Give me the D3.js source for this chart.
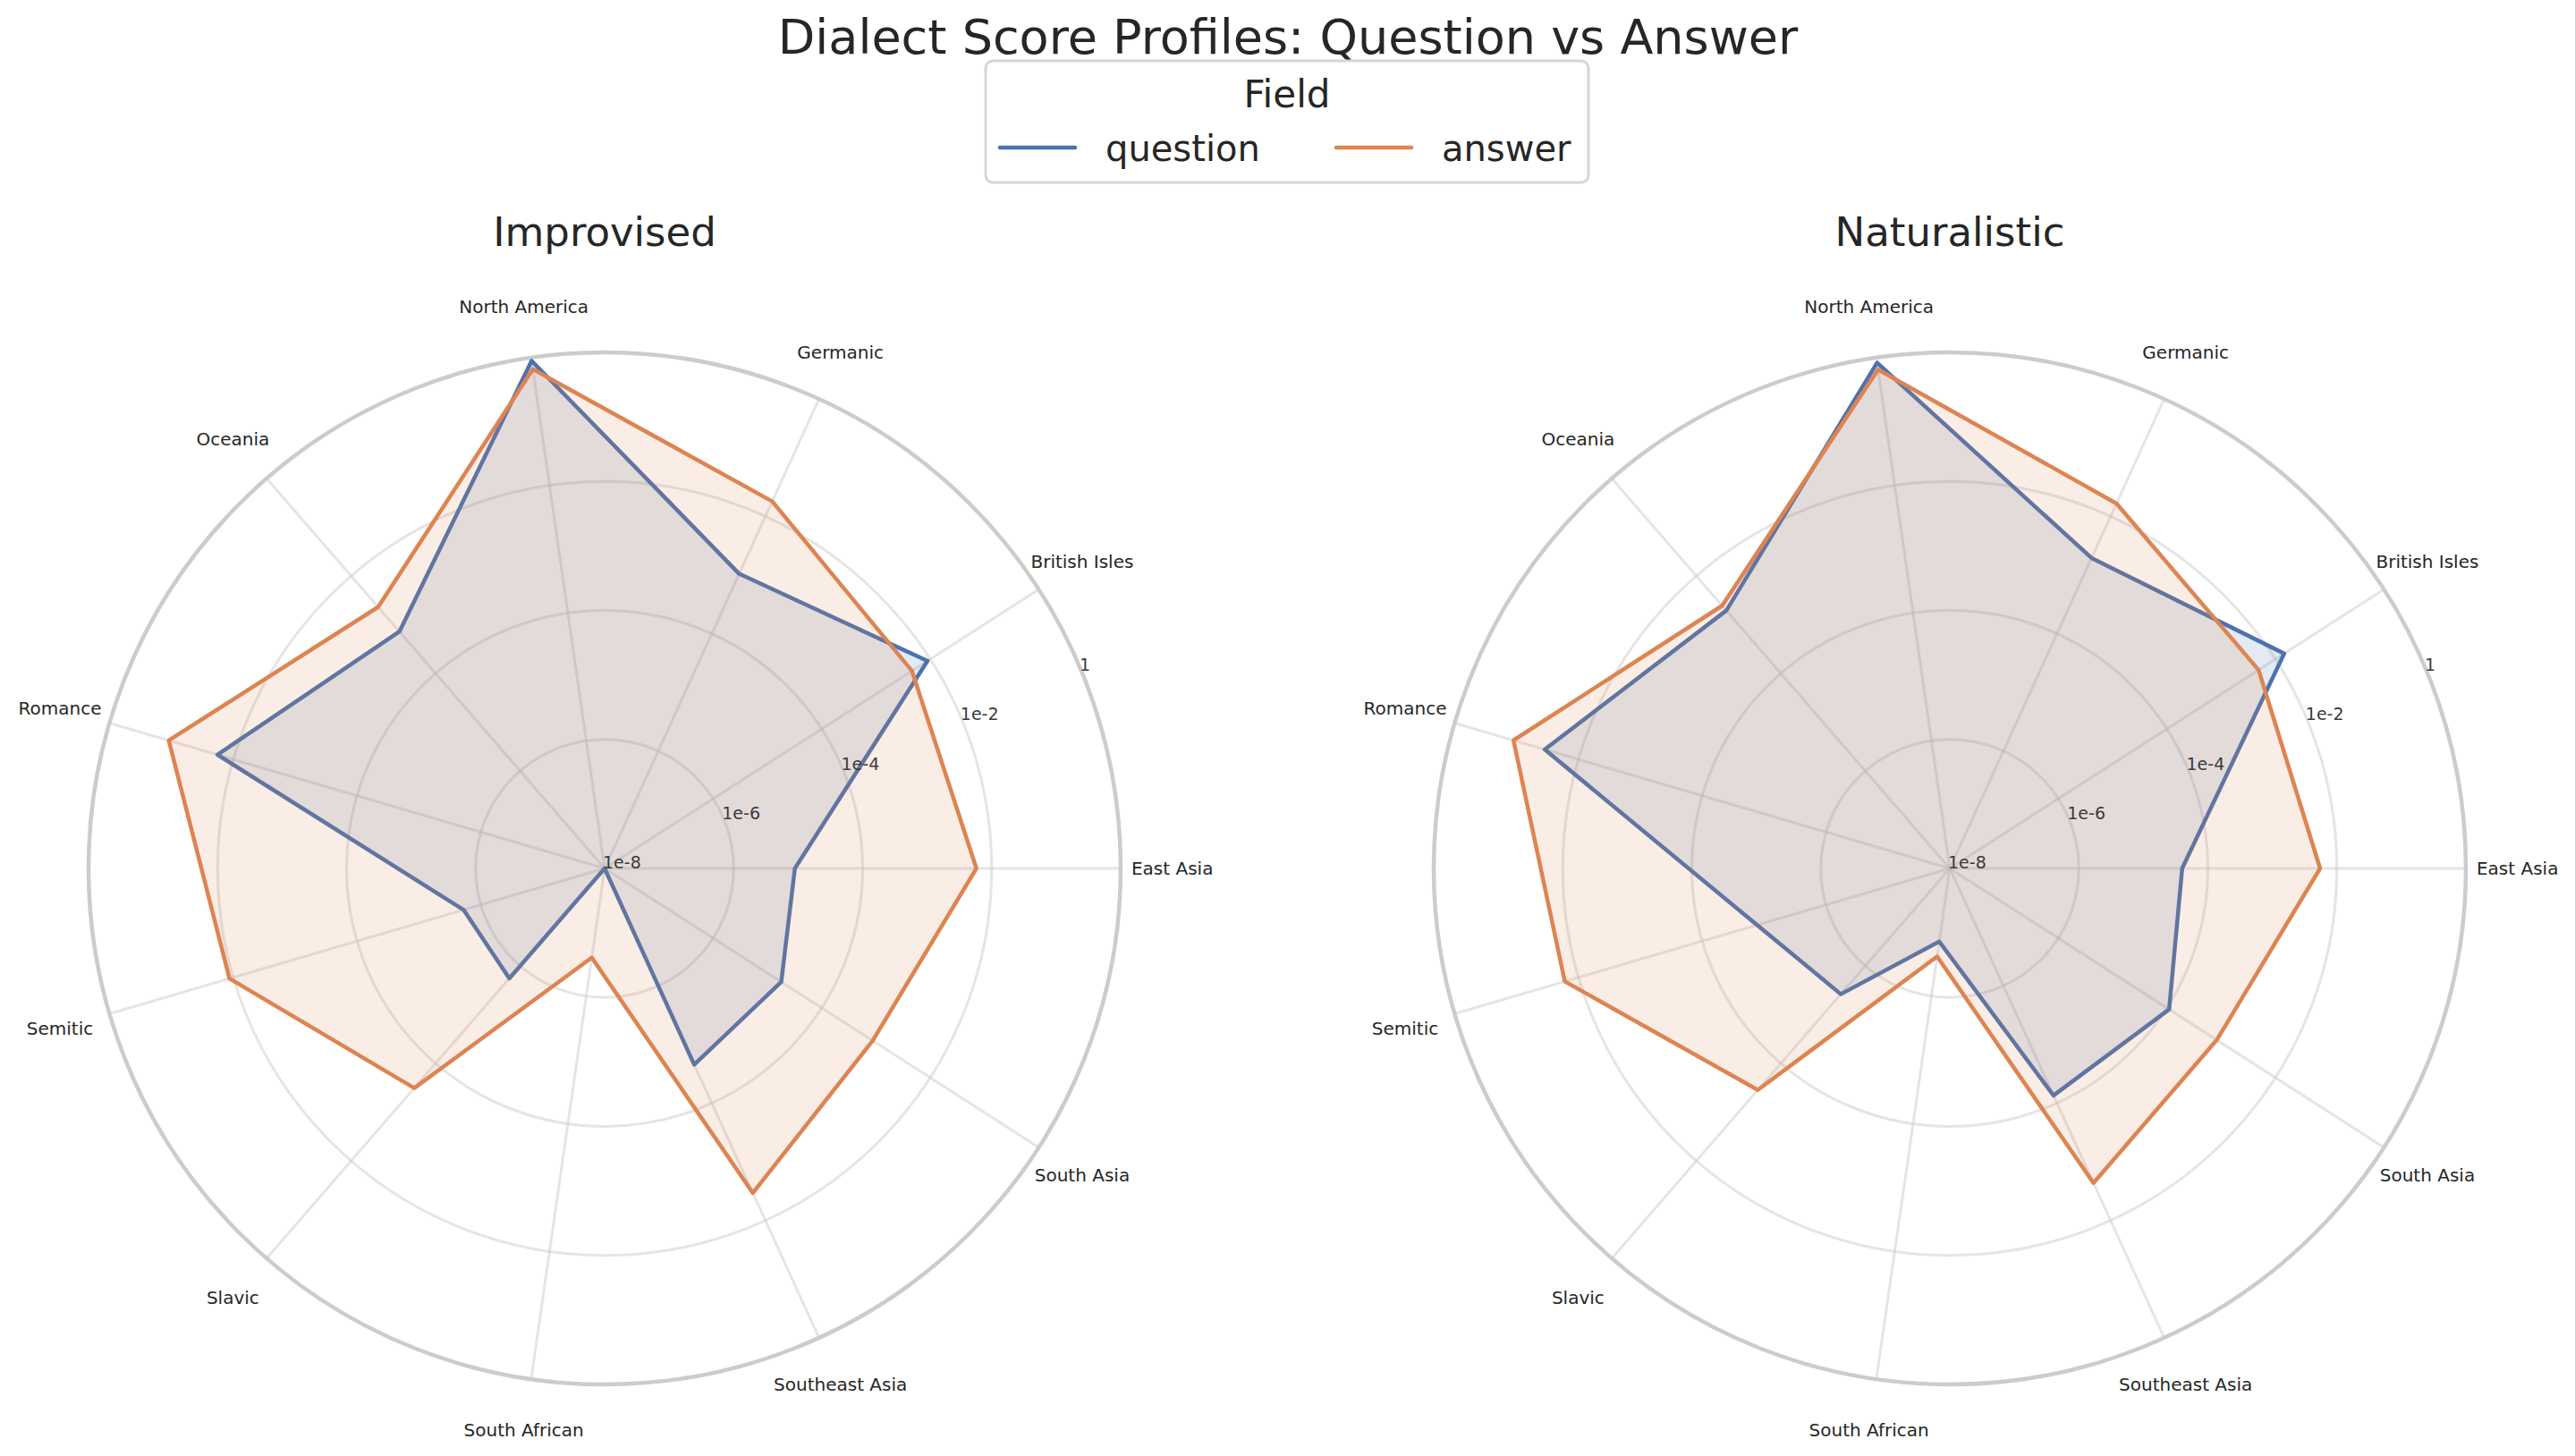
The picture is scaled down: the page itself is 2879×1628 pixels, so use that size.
<!DOCTYPE html>
<html>
<head>
<meta charset="utf-8">
<script src="https://cdn.jsdelivr.net/npm/d3@7"></script>
<style>
  body { margin: 0; background: #fff; }
  text { font-family: "DejaVu Sans", sans-serif; fill: #262626; }
</style>
</head>
<body>
<svg id="chart" width="2879" height="1628"></svg>
<script>
// categories, counter-clockwise from 3 o'clock
const categories = ['East Asia', 'British Isles', 'Germanic', 'North America', 'Oceania', 'Romance',
  'Semitic', 'Slavic', 'South African', 'Southeast Asia', 'South Asia'];

const fields = ['question', 'answer'];
const panels = ['Improvised', 'Naturalistic'];

// scores (log radial axis)
const improvisedQuestion = [8.9e-6, 8.9e-3, 1.05e-3, 0.89, 7.2e-4, 0.018, 1.9e-6, 1.8e-6, 1e-8, 2.2e-5, 1.8e-5];
const improvisedAnswer = [5.8e-3, 4.6e-3, 0.018, 0.66, 2.3e-3, 0.11, 0.0115, 3.2e-4, 2.5e-7, 3.4e-3, 8.7e-4];
const naturalisticQuestion = [4.0e-5, 0.0145, 1.95e-3, 0.83, 1.95e-3, 0.035, 1.3e-5, 3.8e-6, 1.4e-7, 7.4e-5, 1.1e-4];
const naturalisticAnswer = [5.5e-3, 4.9e-3, 0.0166, 0.65, 2.45e-3, 0.112, 0.0166, 3.5e-4, 2.4e-7, 2.3e-3, 8.3e-4];

const tickValues = [1e-8, 1e-6, 1e-4, 1e-2, 1];
const tickLabels = ['1e-8', '1e-6', '1e-4', '1e-2', '1'];

const colors = { question: '#4c72b0', answer: '#dd8452' };
const R = 577;

const svg = d3.select('#chart');
svg.append('rect').attr('width', 2879).attr('height', 1628).attr('fill', '#fff');

const r = d3.scaleLog().domain([1e-8, 1]).range([0, R]).clamp(true);
const angle = d3.scaleLinear().domain([0, categories.length]).range([0, 2 * Math.PI]);

svg.append('text')
  .attr('x', 1440).attr('y', 60)
  .attr('text-anchor', 'middle')
  .style('font-size', '54px')
  .text('Dialect Score Profiles: Question vs Answer');

function drawRadar(cx, title, series) {
  const g = svg.append('g').attr('transform', `translate(${cx}, 971)`);

  svg.append('text')
    .attr('x', cx).attr('y', 275)
    .attr('text-anchor', 'middle')
    .style('font-size', '45px')
    .text(title);

  // rings
  g.selectAll('.ring')
    .data(tickValues.slice(1, -1))
    .enter()
    .append('circle')
    .attr('r', d => r(d))
    .attr('fill', 'none')
    .attr('stroke', '#cccccc')
    .attr('stroke-opacity', 0.5)
    .attr('stroke-width', 3);

  // spokes
  g.selectAll('.spoke')
    .data(categories)
    .enter()
    .append('line')
    .attr('x1', 0).attr('y1', 0)
    .attr('x2', (d, i) => R * Math.cos(angle(i)))
    .attr('y2', (d, i) => -R * Math.sin(angle(i)))
    .attr('stroke', '#cccccc')
    .attr('stroke-opacity', 0.5)
    .attr('stroke-width', 3);

  // outer spine
  g.append('circle')
    .attr('r', R)
    .attr('fill', 'none')
    .attr('stroke', '#cccccc')
    .attr('stroke-width', 4.5);

  const radial = d3.lineRadial()
    .angle((d, i) => Math.PI / 2 - angle(i))
    .radius(d => r(d))
    .curve(d3.curveLinearClosed);

  fields.forEach(f => {
    g.append('path')
      .attr('d', radial(series[f]))
      .attr('fill', colors[f])
      .attr('fill-opacity', 0.15)
      .attr('stroke', 'none');
    g.append('path')
      .attr('d', radial(series[f]))
      .attr('fill', 'none')
      .attr('stroke', colors[f])
      .attr('stroke-width', 4.5)
      .attr('stroke-linejoin', 'round');
  });

  // radial tick labels at 22.5 deg
  const a = Math.PI / 8;
  g.selectAll('.tick')
    .data(tickValues)
    .enter()
    .append('text')
    .attr('x', d => r(d) * Math.cos(a) - 2)
    .attr('y', d => -r(d) * Math.sin(a))
    .style('font-size', '19px')
    .style('fill', '#3a3a3a')
    .text((d, i) => tickLabels[i]);

  // category labels
  g.selectAll('.cat')
    .data(categories)
    .enter()
    .append('text')
    .attr('x', (d, i) => 1.1 * R * Math.cos(angle(i)))
    .attr('y', (d, i) => -1.1 * R * Math.sin(angle(i)))
    .attr('text-anchor', 'middle')
    .attr('dominant-baseline', 'central')
    .style('font-size', '20px')
    .text(d => d);
}

drawRadar(676, panels[0], { question: improvisedQuestion, answer: improvisedAnswer });
drawRadar(2180, panels[1], { question: naturalisticQuestion, answer: naturalisticAnswer });

// Legend
const legend = svg.append('g');
legend.append('rect')
  .attr('x', 1102).attr('y', 68)
  .attr('width', 674).attr('height', 136)
  .attr('rx', 8)
  .attr('fill', '#fff')
  .attr('fill-opacity', 0.8)
  .attr('stroke', '#d6d6d6')
  .attr('stroke-width', 3);

legend.append('text')
  .attr('x', 1439).attr('y', 120)
  .attr('text-anchor', 'middle')
  .style('font-size', '42px')
  .text('Field');

const legendX = { question: 1118, answer: 1494 };
fields.forEach(f => {
  legend.append('line')
    .attr('x1', legendX[f]).attr('x2', legendX[f] + 84)
    .attr('y1', 165).attr('y2', 165)
    .attr('stroke', colors[f])
    .attr('stroke-width', 4.5)
    .attr('stroke-linecap', 'round');
  legend.append('text')
    .attr('x', legendX[f] + 118).attr('y', 180)
    .style('font-size', '40px')
    .text(f);
});
</script>
</body>
</html>
